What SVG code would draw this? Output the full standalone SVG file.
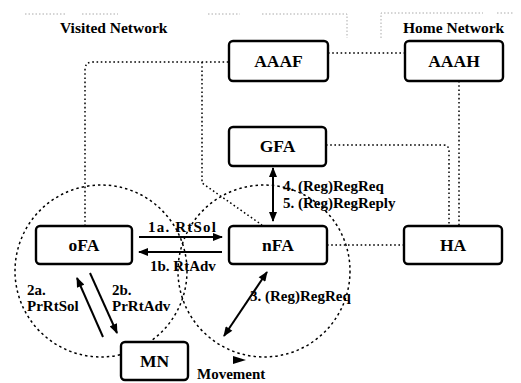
<svg xmlns="http://www.w3.org/2000/svg" width="521" height="383" viewBox="0 0 521 383">
<defs>
<style>
.box{fill:#fff;stroke:#000;stroke-width:2.4}
.lbl{font-family:"Liberation Serif","Times New Roman",serif;font-weight:bold;font-size:17.5px;text-anchor:middle}
.txt{font-family:"Liberation Serif","Times New Roman",serif;font-weight:bold;font-size:15px}
.dot{fill:none;stroke:#000;stroke-width:1.5;stroke-dasharray:1.6 2.6}
.zone{fill:none;stroke:#000;stroke-width:1.5;stroke-dasharray:2.5 3}
.faint{fill:none;stroke:#aaa;stroke-width:1;stroke-dasharray:1.5 2}
.arr{fill:none;stroke:#000;stroke-width:2}
</style>
<marker id="ah" viewBox="0 0 10 8" refX="9" refY="4" markerWidth="11" markerHeight="8" markerUnits="userSpaceOnUse" orient="auto-start-reverse">
<path d="M0,0 L10,4 L0,8 Z" fill="#000"/>
</marker>
</defs>
<rect width="521" height="383" fill="#fff"/>
<g id="frame-traces">
<path class="faint" d="M25,14 H65 M82,14 H118 M208,14 H240 M262,14 H347 V38"/>
<path class="faint" d="M381,38 V13 H483 M497,13 H513"/>
</g>
<g id="zones">
<circle class="zone" cx="101" cy="271" r="86"/>
<circle class="zone" cx="264" cy="271" r="86"/>
</g>
<g id="connectors">
<path class="dot" d="M85,226 V70 Q85,62 93,62 H229"/>
<path class="dot" d="M202,62 V183 L262,225"/>
<path class="dot" d="M328,53 H405"/>
<path class="dot" d="M459,81 V226"/>
<path class="dot" d="M326,145 H443 Q449,145 449,151 V226"/>
<path class="dot" d="M327,245 H404"/>
<line class="arr" x1="139" y1="237" x2="222" y2="237" marker-end="url(#ah)"/>
<line class="arr" x1="222" y1="252" x2="139" y2="252" marker-end="url(#ah)"/>
<line class="arr" x1="273" y1="168" x2="273" y2="221" marker-start="url(#ah)" marker-end="url(#ah)"/>
<line class="arr" x1="103" y1="337" x2="77" y2="278" marker-end="url(#ah)"/>
<line class="arr" x1="90" y1="273" x2="117" y2="333" marker-end="url(#ah)"/>
<line class="arr" x1="267" y1="272" x2="224" y2="336" marker-start="url(#ah)" marker-end="url(#ah)"/>
<path d="M233,356 L246,360 L233,364 Z" fill="#000"/>
</g>
<g id="AAAF"><rect class="box" x="229" y="41" width="99" height="40" rx="4"/><text class="lbl" x="278.5" y="67">AAAF</text></g>
<g id="AAAH"><rect class="box" x="405" y="41" width="98" height="40" rx="4"/><text class="lbl" x="454" y="67">AAAH</text></g>
<g id="GFA"><rect class="box" x="229" y="127" width="97" height="39" rx="4"/><text class="lbl" x="277.5" y="152">GFA</text></g>
<g id="oFA"><rect class="box" x="36" y="226" width="96" height="38" rx="4"/><text class="lbl" x="84" y="251">oFA</text></g>
<g id="nFA"><rect class="box" x="229" y="226" width="98" height="38" rx="4"/><text class="lbl" x="278" y="251">nFA</text></g>
<g id="HA"><rect class="box" x="404" y="226" width="98" height="38" rx="4"/><text class="lbl" x="453" y="251">HA</text></g>
<g id="MN"><rect class="box" x="121" y="342" width="67" height="38" rx="4"/><text class="lbl" x="154.5" y="367">MN</text></g>
<g id="labels">
<text class="txt" x="60" y="33" style="font-size:15.5px">Visited Network</text>
<text class="txt" x="403" y="33" style="font-size:15.5px">Home Network</text>
<text class="txt" x="148" y="232" textLength="68" lengthAdjust="spacing">1a. RtSol</text>
<text class="txt" x="150" y="271">1b. RtAdv</text>
<text class="txt" x="283" y="191">4. (Reg)RegReq</text>
<text class="txt" x="283" y="208">5. (Reg)RegReply</text>
<text class="txt" x="27" y="295">2a.</text>
<text class="txt" x="27" y="311">PrRtSol</text>
<text class="txt" x="112" y="295">2b.</text>
<text class="txt" x="112" y="311">PrRtAdv</text>
<text class="txt" x="250" y="301">3. (Reg)RegReq</text>
<text class="txt" x="197" y="379">Movement</text>
</g>
</svg>
